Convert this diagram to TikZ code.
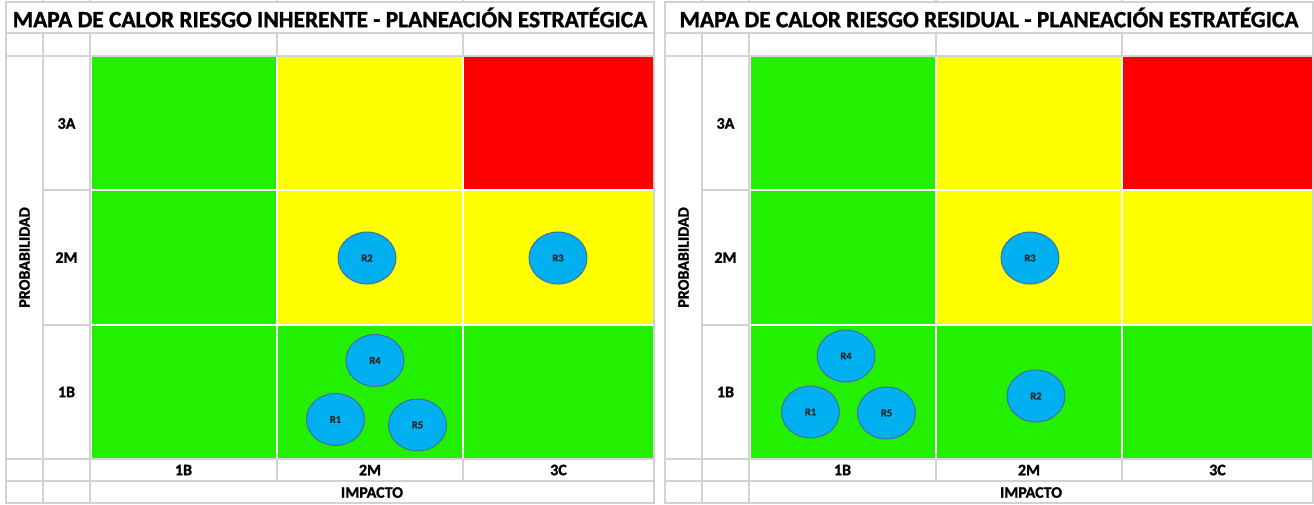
\documentclass[tikz,border=0pt]{standalone}
\usepackage{fontspec}
\setmainfont{Carlito}[BoldFeatures={FakeBold=1.2}]
\usetikzlibrary{shapes.geometric}
\definecolor{hgreen}{RGB}{34,240,0}
\definecolor{hyellow}{RGB}{255,255,0}
\definecolor{hred}{RGB}{255,0,0}
\definecolor{riskfill}{RGB}{0,176,240}
\definecolor{riskline}{RGB}{65,113,156}
\definecolor{gridgray}{RGB}{210,210,210}
\tikzset{
  gridline/.style={draw=gridgray,line width=1.6pt},
  titletext/.style={font=\fontsize{23.4}{26}\selectfont\bfseries,text=black,inner sep=0pt},
  labeltext/.style={font=\fontsize{16}{18}\selectfont\bfseries,text=black,inner sep=0pt},
  risk/.style={ellipse,draw=riskline,line width=1pt,fill=riskfill,minimum width=58pt,minimum height=52pt,inner sep=0pt,font=\fontsize{10.5}{12}\selectfont\bfseries,text=black!85}
}
\newcommand\heatmap[2]{%
  \draw[gridline] (6,2) rectangle (654,503);
  \foreach \yy in {33,56,459,481} \draw[gridline] (6,\yy) -- (654,\yy);
  \foreach \xx in {43,90} \draw[gridline] (\xx,33) -- (\xx,503);
  \foreach \xx in {277,463} {\draw[gridline] (\xx,33) -- (\xx,56); \draw[gridline] (\xx,459) -- (\xx,481);}
  \foreach \yy in {190,325} \draw[gridline] (43,\yy) -- (90,\yy);
  \foreach \xx in {43,90,277,463} \draw[gridline] (\xx,0) -- (\xx,2);
  % colored cells
  \fill[hgreen]  (91.5,57) rectangle (276,189);
  \fill[hyellow] (278,57) rectangle (462,189);
  \fill[hred]    (464,57) rectangle (653.2,189);
  \fill[hgreen]  (91.5,191) rectangle (276,324);
  \fill[hyellow] (278,191) rectangle (462,324);
  \fill[hyellow] (464,191) rectangle (653.2,324);
  \fill[hgreen]  (91.5,326) rectangle (276,458.2);
  \fill[hgreen]  (278,326) rectangle (462,458.2);
  \fill[hgreen]  (464,326) rectangle (653.2,458.2);
  % texts
  \node[titletext] (#1title) at (330,17.5) {#2};
  \node[labeltext,rotate=90] (#1prob) at (24.5,257.5) {PROBABILIDAD};
  \node[labeltext] (#1p3) at (66.5,123.5) {3A};
  \node[labeltext] (#1p2) at (66.5,257.5) {2M};
  \node[labeltext] (#1p1) at (66.5,392) {1B};
  \node[labeltext] (#1i1) at (183.5,470) {1B};
  \node[labeltext] (#1i2) at (370,470) {2M};
  \node[labeltext] (#1i3) at (558.5,470) {3C};
  \node[labeltext] (#1imp) at (372,492.5) {IMPACTO};
}
\begin{document}
\begin{tikzpicture}[x=1pt,y=-1pt]
\useasboundingbox (0,0) rectangle (1314,504);
\fill[white] (0,0) rectangle (1314,504);
\heatmap{l}{MAPA DE CALOR RIESGO INHERENTE - PLANEACIÓN ESTRATÉGICA}
\begin{scope}[xshift=659pt]
\heatmap{r}{MAPA DE CALOR RIESGO RESIDUAL - PLANEACIÓN ESTRATÉGICA}
\end{scope}
% left risks
\node[risk] (lR2) at (367,258) {R2};
\node[risk] (lR3) at (558,258) {R3};
\node[risk] (lR4) at (375,360.5) {R4};
\node[risk] (lR1) at (335.5,419.5) {R1};
\node[risk] (lR5) at (417.5,425) {R5};
% right risks
\node[risk] (rR3) at (1030,258) {R3};
\node[risk] (rR4) at (846,356) {R4};
\node[risk] (rR1) at (810.5,412) {R1};
\node[risk] (rR5) at (886.5,413) {R5};
\node[risk] (rR2) at (1036,396) {R2};
\end{tikzpicture}
\end{document}
